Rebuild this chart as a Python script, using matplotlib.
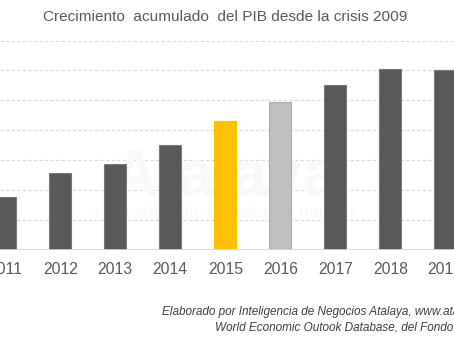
import matplotlib
matplotlib.use("Agg")
import matplotlib.pyplot as plt

plt.rcParams["font.family"] = ["Liberation Sans", "DejaVu Sans"]

# crecimiento acumulado del PIB (%) respecto a 2009
years = [2011, 2012, 2013, 2014, 2015, 2016, 2017, 2018, 2019]
growth = [3.5, 5.1, 5.7, 7.0, 8.6, 9.9, 11.0, 12.1, 12.0]
colors = ["#595959", "#595959", "#595959", "#595959", "#FFC000",
          "#BFBFBF", "#595959", "#595959", "#595959"]
edges = ["#7a7a7a", "#7a7a7a", "#7a7a7a", "#7a7a7a", "#FFC000",
         "#ababab", "#7a7a7a", "#7a7a7a", "#7a7a7a"]

title = "Crecimiento  acumulado  del PIB desde la crisis 2009"
source1 = ("Elaborado por Inteligencia de Negocios Atalaya, "
           "www.atalayainteligencia.com, con datos del")
source2 = "World Economic Outook Database, del Fondo Monetario Internacional"

fig = plt.figure(figsize=(4.54, 3.41), dpi=100)
ax = fig.add_axes([0.0, 0.2683, 1.0, 0.6129])

# grid
for g in range(2, 15, 2):
    ax.axhline(g, color="#d9d9d9", lw=0.8, ls=(0, (3, 2)), zorder=0)
ax.axhline(0, color="#d9d9d9", lw=1.2, zorder=3)

# marca de agua
ax.text(2015.0, 4.8, "Atalaya", fontsize=46, fontweight="bold",
        color="#f8f8f8", ha="center", va="center", zorder=1)
ax.text(2015.0, 2.4, "your strategic knowledge partner", fontsize=13,
        color="#f8f8f8", ha="center", va="center", zorder=1)

ax.bar(years, growth, width=0.4, color=colors, edgecolor=edges,
       linewidth=0.8, zorder=2)

ax.set_xlim(2010.904, 2019.158)
ax.set_ylim(0, 14)
ax.set_yticks([])
ax.set_xticks(years)
ax.set_xticklabels([str(y) for y in years])
ax.tick_params(axis="x", length=0, pad=9, labelsize=11.3, labelcolor="#595959")
for s in ax.spines.values():
    s.set_visible(False)

fig.text(0.495, 0.951, title, ha="center", va="center",
         fontsize=11.1, color="#595959")
fig.text(161.7 / 454, 1 - 311.7 / 341, source1, ha="left", va="center",
         fontsize=8.5, style="italic", color="#404040")
fig.text(215 / 454, 1 - 327.3 / 341, source2, ha="left", va="center",
         fontsize=8.5, style="italic", color="#404040")

fig.savefig("out.png", dpi=100)
